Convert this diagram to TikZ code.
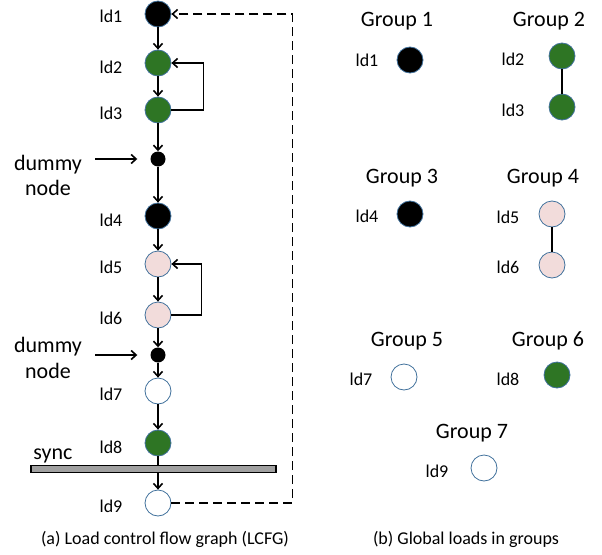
\documentclass[tikz,border=0pt]{standalone}
\usepackage{fontspec}
\setmainfont{Carlito}
\usepackage{xcolor}
\usetikzlibrary{arrows.meta}
\definecolor{ldgreen}{RGB}{46,117,36}
\definecolor{ldpink}{RGB}{242,220,219}
\definecolor{ldrim}{RGB}{65,113,156}
\definecolor{bargray}{RGB}{160,160,160}
\tikzset{
    ld/.style={circle, draw=ldrim, line width=0.8pt, minimum size=26pt, inner sep=0pt},
    dum/.style={circle, fill=black, minimum size=15pt, inner sep=0pt},
    lbl/.style={font=\fontsize{18}{20}\selectfont, anchor=base, inner sep=0pt},
    ttl/.style={font=\fontsize{22}{26}\selectfont, anchor=base, inner sep=0pt},
    arr/.style={line width=1.7pt, -{Straight Barb[length=5pt,width=9pt,line width=1.6pt]}}
}

\begin{document}
\begin{tikzpicture}[x=1pt,y=-1pt]
    \useasboundingbox (0,0) rectangle (602,554);

    % (a) load control flow graph
    \node[ld, fill=black]  (l1) at (158,14)  {};
    \node[ld, fill=ldgreen] (l2) at (158,63)  {};
    \node[ld, fill=ldgreen] (l3) at (158,110) {};
    \node[dum]             (d1) at (158,159) {};
    \node[ld, fill=black]  (l4) at (158,216) {};
    \node[ld, fill=ldpink] (l5) at (158,264) {};
    \node[ld, fill=ldpink] (l6) at (158,315) {};
    \node[dum]             (d2) at (158,355) {};
    \node[ld, fill=white]  (l7) at (158,391) {};
    \node[ld, fill=ldgreen] (l8) at (158,443) {};
    \node[ld, fill=white]  (l9) at (158,503) {};

    \node[lbl] at (111,23)  {ld1};
    \node[lbl] at (111,73)  {ld2};
    \node[lbl] at (111,119) {ld3};
    \node[lbl] at (111,226) {ld4};
    \node[lbl] at (111,273) {ld5};
    \node[lbl] at (111,324) {ld6};
    \node[lbl] at (111,400) {ld7};
    \node[lbl] at (111,453) {ld8};
    \node[lbl] at (111,512) {ld9};

    \draw[arr] (l1) -- (l2);
    \draw[arr] (l2) -- (l3);
    \draw[arr] (l3) -- (d1);
    \draw[arr] (d1) -- (l4);
    \draw[arr] (l4) -- (l5);
    \draw[arr] (l5) -- (l6);
    \draw[arr] (l6) -- (d2);
    \draw[arr] (d2) -- (l7);
    \draw[arr] (l7) -- (l8);
    \draw[arr] (l8) -- (l9);
    \draw[arr] (l3.east) -- ++(32,0) |- (l2.east);
    \draw[arr] (l6.east) -- ++(30,0) |- (l5.east);
    \draw[arr, dash pattern=on 9pt off 5pt] (l9.east) -- ++(121,0) |- (l1.east);

    % dummy nodes
    \node[ttl] (dt1) at (48,170) {dummy};
    \node[ttl] at (48,195) {node};
    \draw[arr, shorten >=13pt] ([xshift=13pt]dt1.east |- d1) -- (d1.west);
    \node[ttl] (dt2) at (48,352) {dummy};
    \node[ttl] at (48,378) {node};
    \draw[arr, shorten >=13pt] ([xshift=13pt]dt2.east |- d2) -- (d2.west);

    % sync barrier
    \node[draw=black, line width=1.5pt, fill=bargray, minimum width=245pt, minimum height=7pt, inner sep=0pt] (bar) at (153.5,469) {};
    \node[ttl] at (53,459) {sync};

    \node[lbl] at (165,544) {(a) Load control flow graph (LCFG)};

    % (b) global loads in groups
    \node[ttl] at (397,27)  {Group 1};
    \node[ttl] at (549,27)  {Group 2};
    \node[ttl] at (402,183) {Group 3};
    \node[ttl] at (543,183) {Group 4};
    \node[ttl] at (407,346) {Group 5};
    \node[ttl] at (548,346) {Group 6};
    \node[ttl] at (472,438) {Group 7};

    \node[ld, fill=black]  (g1) at (410,60)  {};
    \node[ld, fill=ldgreen] (g2) at (562,56)  {};
    \node[ld, fill=ldgreen] (g3) at (562,107) {};
    \node[ld, fill=black]  (g4) at (410,214) {};
    \node[ld, fill=ldpink] (g5) at (552,214) {};
    \node[ld, fill=ldpink] (g6) at (552,265) {};
    \node[ld, fill=white]  (g7) at (404,377) {};
    \node[ld, fill=ldgreen] (g8) at (557,375) {};
    \node[ld, fill=white]  (g9) at (484,468) {};
    \draw[line width=1.5pt] (g2) -- (g3);
    \draw[line width=1.5pt] (g5) -- (g6);

    \node[lbl] at (367,66)  {ld1};
    \node[lbl] at (513,65)  {ld2};
    \node[lbl] at (513,116) {ld3};
    \node[lbl] at (367,222) {ld4};
    \node[lbl] at (508,223) {ld5};
    \node[lbl] at (508,273) {ld6};
    \node[lbl] at (361,385) {ld7};
    \node[lbl] at (508,385) {ld8};
    \node[lbl] at (437,477) {ld9};

    \node[lbl] at (466,544) {(b) Global loads in groups};
\end{tikzpicture}
\end{document}
